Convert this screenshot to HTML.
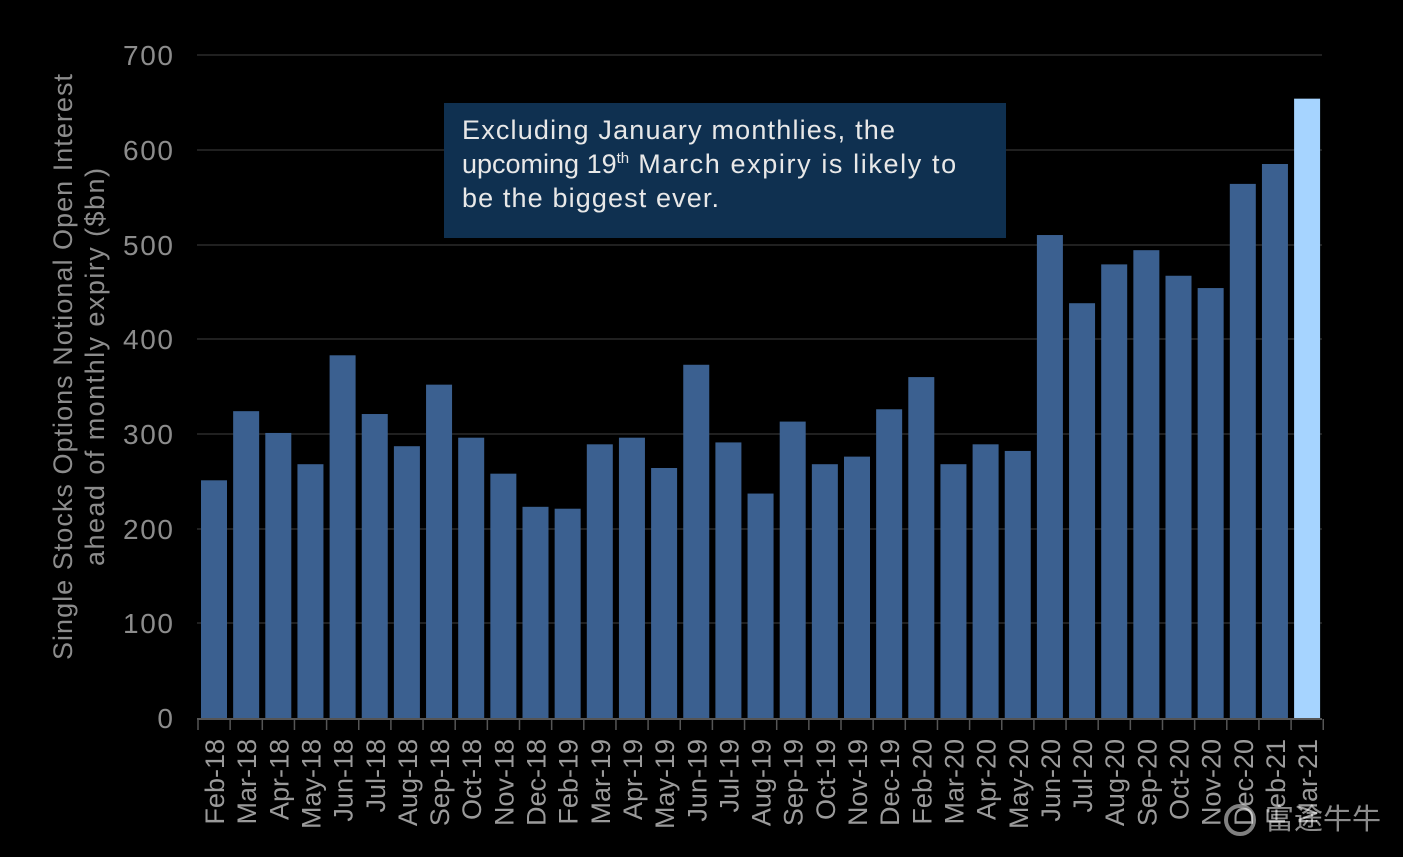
<!DOCTYPE html>
<html><head><meta charset="utf-8"><style>
html,body{margin:0;padding:0;background:#000;}
svg{display:block;}
text{font-family:"Liberation Sans","Noto Sans CJK SC",sans-serif;}
</style></head><body>
<svg width="1403" height="857" viewBox="0 0 1403 857" xmlns="http://www.w3.org/2000/svg">
<rect width="1403" height="857" fill="#000"/>
<g stroke="#2a2a2a" stroke-width="1.5">
<line x1="197" y1="55" x2="1322" y2="55"/>
<line x1="197" y1="150" x2="1322" y2="150"/>
<line x1="197" y1="245" x2="1322" y2="245"/>
<line x1="197" y1="339" x2="1322" y2="339"/>
<line x1="197" y1="434" x2="1322" y2="434"/>
<line x1="197" y1="529" x2="1322" y2="529"/>
<line x1="197" y1="623" x2="1322" y2="623"/>
</g>
<g fill="#8c8c8c" font-size="28" text-anchor="end">
<text x="173" y="65" textLength="50">700</text><text x="173" y="160" textLength="50">600</text><text x="173" y="255" textLength="50">500</text>
<text x="173" y="349" textLength="50">400</text><text x="173" y="444" textLength="50">300</text><text x="173" y="539" textLength="50">200</text>
<text x="173" y="633" textLength="50">100</text><text x="173" y="728">0</text>
</g>
<text transform="translate(72,367) rotate(-90)" fill="#8c8c8c" font-size="27" text-anchor="middle" textLength="586">Single Stocks Options Notional Open Interest</text>
<text transform="translate(104,367) rotate(-90)" fill="#8c8c8c" font-size="27" text-anchor="middle" textLength="398">ahead of monthly expiry ($bn)</text>
<g id="bars"></g>
<line x1="197" y1="719" x2="1322" y2="719" stroke="#555" stroke-width="2"/>
<g id="ticks" stroke="#555" stroke-width="1.5"></g>
<g id="labels" fill="#9a9a9a" font-size="27"></g>
<rect x="444" y="103" width="562" height="135" fill="#0f3050"/>
<g fill="#e8e8e8" font-size="27">
<text x="462" y="139" textLength="433">Excluding January monthlies, the</text>
<text x="462" y="173">upcoming 19<tspan font-size="15" dy="-10">th</tspan><tspan dy="10" textLength="327"> March expiry is likely to</tspan></text>
<text x="462" y="207" textLength="257">be the biggest ever.</text>
</g>
<text x="1265" y="829" fill="#ffffff" fill-opacity="0.55" font-size="29">富途牛牛</text>
<circle cx="1240" cy="820" r="14" fill="none" stroke="#fff" stroke-opacity="0.5" stroke-width="4"/>
<script>
var vals=[251,324,301,268,383,321,287,352,296,258,223,221,289,296,264,373,291,237,313,268,276,326,360,268,289,282,510,438,479,494,467,454,564,585,654];
var labs=["Feb-18","Mar-18","Apr-18","May-18","Jun-18","Jul-18","Aug-18","Sep-18","Oct-18","Nov-18","Dec-18","Feb-19","Mar-19","Apr-19","May-19","Jun-19","Jul-19","Aug-19","Sep-19","Oct-19","Nov-19","Dec-19","Feb-20","Mar-20","Apr-20","May-20","Jun-20","Jul-20","Aug-20","Sep-20","Oct-20","Nov-20","Dec-20","Feb-21","Mar-21"];
var ns="http://www.w3.org/2000/svg",b=document.getElementById("bars"),t=document.getElementById("ticks"),l=document.getElementById("labels");
var step=32.15;
for(var i=0;i<35;i++){
 var x=201+i*step,h=vals[i]*0.947;
 var r=document.createElementNS(ns,"rect");
 r.setAttribute("x",x);r.setAttribute("y",718-h);r.setAttribute("width",26);r.setAttribute("height",h);
 r.setAttribute("fill",i==34?"#a6d4ff":"#3b6090");b.appendChild(r);
 var tx=document.createElementNS(ns,"text");
 tx.setAttribute("transform","translate("+(x+23)+",739) rotate(-90)");
 tx.setAttribute("text-anchor","end");tx.textContent=labs[i];l.appendChild(tx);
}
for(var i=0;i<=35;i++){
 var xx=198+i*step;var ln=document.createElementNS(ns,"line");
 ln.setAttribute("x1",xx);ln.setAttribute("x2",xx);ln.setAttribute("y1",719);ln.setAttribute("y2",730);t.appendChild(ln);
}
</script>
</svg>
</body></html>
